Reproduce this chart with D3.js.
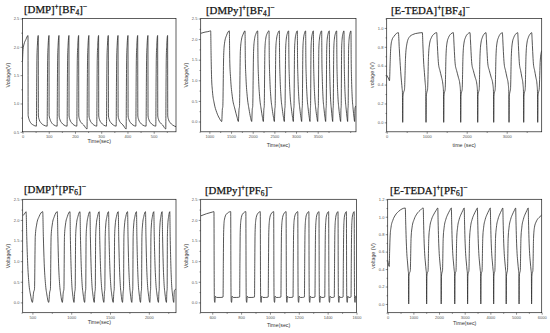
<!DOCTYPE html>
<html>
<head>
<meta charset="utf-8">
<script src="https://cdn.jsdelivr.net/npm/d3@7"></script>
<style>
body { margin: 0; background: #fff; }
svg { display: block; }
</style>
</head>
<body>
<svg></svg>
<script>
// charge / discharge curves, [time (sec), voltage (V)]

var dmpBf4 = [
	[0,1.75],[2,1.95],[6,2.05],[13,2.13],[21,2.2],
	[21.5,0.79],[25,0.72],[31,0.66],[41,0.62],[53,0.6],[54,1.3],[55,1.8],[57,2.05],[60,2.2],
	[60.5,0.78],[64,0.71],[70,0.66],[80,0.62],[94,0.6],[95,1.3],[96,1.8],[98,2.05],[101,2.2],
	[101.5,0.79],[105,0.72],[111,0.66],[120,0.62],[132,0.6],[133,1.3],[134,1.8],[136,2.05],[139,2.2],
	[139.5,0.78],[143,0.71],[149,0.66],[158,0.62],[170,0.6],[171,1.3],[172,1.8],[174,2.05],[177,2.2],
	[177.5,0.78],[181,0.71],[187,0.66],[196,0.62],[207,0.6],[208,1.3],[209,1.8],[211,2.05],[214,2.2],
	[214.5,0.78],[218,0.71],[224,0.66],[233,0.62],[246,0.55],[247,1.3],[248,1.8],[250,2.05],[253,2.2],
	[253.5,0.78],[257,0.71],[263,0.66],[272,0.62],[283,0.6],[284,1.3],[285,1.8],[287,2.05],[290,2.2],
	[290.5,0.78],[294,0.71],[300,0.66],[309,0.62],[320,0.6],[321,1.3],[322,1.8],[324,2.05],[327,2.2],
	[327.5,0.78],[331,0.71],[337,0.66],[346,0.62],[357,0.6],[358,1.3],[359,1.8],[361,2.05],[364,2.2],
	[364.5,0.78],[368,0.71],[374,0.66],[383,0.62],[395,0.55],[396,1.3],[397,1.8],[399,2.05],[402,2.2],
	[402.5,0.78],[406,0.71],[412,0.66],[421,0.62],[432,0.6],[433,1.3],[434,1.8],[436,2.05],[439,2.2],
	[439.5,0.78],[443,0.71],[449,0.66],[458,0.62],[471,0.6],[472,1.3],[473,1.8],[475,2.05],[478,2.2],
	[478.5,0.78],[482,0.71],[488,0.66],[497,0.62],[508,0.6],[509,1.3],[510,1.8],[512,2.05],[515,2.2],
	[515.5,0.78],[519,0.71],[525,0.66],[534,0.62],[546,0.55],[547,1.3],[548,1.8],[550,2.05],[553,2.2],
	[553.5,0.78],[557,0.71],[563,0.66],[572,0.62],[585,0.59]
];

var dmpyBf4 = [
	[800,2.14],[900,2.17],[1000,2.19],[1015,2.2],[1030,2.2],
	[1040,1.6],[1050,1.1],[1070,0.75],[1110,0.45],[1170,0.22],[1230,0.08],[1285,0],
	[1300,0.3],[1310,0.36],[1330,1.6],[1350,1.9],[1400,2.1],[1461,2.2],
	[1470,1.5],[1490,1.05],[1530,0.6],[1590,0.3],[1640,0.1],[1669,0],
	[1685,0.3],[1695,0.36],[1715,1.7],[1740,1.98],[1780,2.12],[1823,2.2],
	[1830,1.5],[1845,1.05],[1875,0.6],[1915,0.3],[1950,0.1],[1977,0],
	[1990,0.3],[2000,0.36],[2020,1.7],[2040,1.98],[2075,2.13],[2115,2.2],
	[2122,1.5],[2135,1.05],[2160,0.6],[2195,0.3],[2225,0.1],[2246,0],
	[2258,0.3],[2266,0.36],[2282,1.75],[2300,2.0],[2335,2.14],[2377,2.2],
	[2383,1.5],[2395,1.05],[2418,0.6],[2450,0.3],[2480,0.1],[2500,0],
	[2511,0.3],[2518,0.36],[2533,1.75],[2550,2.0],[2580,2.14],[2615,2.2],
	[2621,1.5],[2632,1.05],[2653,0.6],[2683,0.3],[2710,0.1],[2730,0],
	[2740,0.3],[2746,0.36],[2760,1.75],[2775,2.0],[2800,2.14],[2830,2.2],
	[2836,1.5],[2846,1.05],[2866,0.6],[2894,0.3],[2920,0.1],[2938,0],
	[2947,0.3],[2953,0.36],[2966,1.75],[2980,2.0],[3003,2.14],[3030,2.2],
	[3035,1.5],[3045,1.05],[3063,0.6],[3089,0.3],[3113,0.1],[3130,0],
	[3139,0.3],[3145,0.36],[3158,1.75],[3172,2.0],[3195,2.14],[3222,2.2],
	[3227,1.5],[3237,1.05],[3255,0.6],[3281,0.3],[3305,0.1],[3322,0],
	[3330,0.3],[3335,0.36],[3346,1.75],[3358,2.0],[3378,2.14],[3400,2.2],
	[3405,1.5],[3414,1.05],[3432,0.6],[3457,0.3],[3482,0.1],[3500,0],
	[3508,0.3],[3514,0.36],[3526,1.75],[3540,2.0],[3563,2.14],[3592,2.2],
	[3597,1.5],[3606,1.05],[3622,0.6],[3646,0.3],[3668,0.1],[3684,0],
	[3692,0.3],[3697,0.36],[3708,1.75],[3720,2.0],[3742,2.14],[3768,2.2],
	[3773,1.5],[3781,1.05],[3795,0.6],[3815,0.3],[3833,0.1],[3846,0],
	[3854,0.3],[3859,0.36],[3871,1.75],[3885,2.0],[3910,2.14],[3938,2.2],
	[3943,1.5],[3951,1.05],[3967,0.6],[3990,0.3],[4012,0.1],[4030,0],
	[4037,0.3],[4042,0.36],[4052,1.75],[4064,2.0],[4084,2.14],[4107,2.2],
	[4112,1.5],[4120,1.05],[4135,0.6],[4157,0.3],[4177,0.1],[4191,0],
	[4198,0.3],[4203,0.36],[4213,1.75],[4225,2.0],[4245,2.14],[4268,2.2],
	[4273,1.5],[4281,1.05],[4296,0.6],[4318,0.3],[4338,0.1],[4352,0],
	[4360,0.3],[4370,0.36],[4384,0.38]
];

var eTedaBf4 = [
	[0,0.5],[50,0.46],[70,0.44],[85,0.62],[100,0.78],[130,0.87],[180,0.91],[240,0.94],[292,0.95],
	[315,0.78],[340,0.6],[360,0.48],[385,0.36],[393,0.32],[400,0],
	[408,0.28],[425,0.32],[445,0.35],[470,0.68],[500,0.82],[560,0.9],[650,0.93],[780,0.945],[892,0.95],
	[905,0.82],[922,0.65],[942,0.53],[962,0.42],[976,0.34],[983,0],
	[991,0.28],[1005,0.32],[1022,0.35],[1045,0.7],[1075,0.84],[1120,0.9],[1180,0.935],[1250,0.95],
	[1260,0.88],[1275,0.75],[1295,0.62],[1330,0.55],[1370,0.48],[1405,0.4],[1419,0.33],[1425,0],
	[1433,0.28],[1447,0.32],[1462,0.35],[1482,0.7],[1507,0.84],[1547,0.9],[1600,0.935],[1667,0.95],
	[1677,0.88],[1692,0.75],[1712,0.62],[1747,0.55],[1790,0.48],[1830,0.4],[1844,0.33],[1850,0],
	[1858,0.28],[1872,0.32],[1887,0.35],[1907,0.7],[1932,0.84],[1970,0.9],[2020,0.935],[2083,0.95],
	[2093,0.88],[2108,0.75],[2128,0.62],[2165,0.55],[2210,0.48],[2255,0.4],[2269,0.33],[2275,0],
	[2283,0.28],[2297,0.32],[2312,0.35],[2332,0.7],[2356,0.84],[2392,0.9],[2435,0.935],[2483,0.95],
	[2493,0.88],[2508,0.75],[2528,0.62],[2565,0.55],[2610,0.48],[2655,0.4],[2669,0.33],[2675,0],
	[2683,0.28],[2697,0.32],[2712,0.35],[2732,0.7],[2757,0.84],[2795,0.9],[2840,0.935],[2892,0.95],
	[2902,0.88],[2917,0.75],[2937,0.62],[2970,0.55],[3005,0.48],[3040,0.4],[3052,0.33],[3058,0],
	[3066,0.28],[3080,0.32],[3095,0.35],[3115,0.7],[3140,0.84],[3178,0.9],[3225,0.935],[3275,0.95],
	[3285,0.88],[3300,0.75],[3318,0.62],[3348,0.55],[3378,0.48],[3408,0.4],[3419,0.33],[3425,0],
	[3433,0.28],[3447,0.32],[3462,0.35],[3482,0.7],[3506,0.84],[3542,0.9],[3585,0.935],[3625,0.95],
	[3635,0.88],[3650,0.75],[3668,0.62],[3698,0.55],[3728,0.48],[3758,0.4],[3769,0.33],[3775,0],
	[3783,0.28],[3797,0.32],[3812,0.35],[3840,0.66],[3875,0.76]
];

var dmpPf6 = [
	[375,2.1],[395,2.14],[410,2.18],[419,2.2],
	[427,1.6],[439,0.95],[455,0.46],[476,0.18],[500,0],
	[516,0.25],[527,0.32],[537,1.6],[556,1.9],[586,2.08],[633,2.2],
	[641,1.6],[652,0.95],[668,0.46],[687,0.18],[710,0],
	[723,0.25],[732,0.32],[741,1.6],[757,1.9],[782,2.08],[821,2.2],
	[828,1.6],[837,0.95],[850,0.46],[866,0.18],[886,0],
	[898,0.25],[906,0.32],[913,1.6],[927,1.9],[950,2.08],[984,2.2],
	[989,1.6],[997,0.95],[1007,0.46],[1020,0.18],[1036,0],
	[1045,0.25],[1051,0.32],[1057,1.6],[1068,1.9],[1086,2.08],[1113,2.2],
	[1119,1.6],[1128,0.95],[1140,0.46],[1155,0.18],[1173,0],
	[1181,0.25],[1187,0.32],[1192,1.6],[1202,1.9],[1217,2.08],[1241,2.2],
	[1247,1.6],[1255,0.95],[1266,0.46],[1280,0.18],[1297,0],
	[1305,0.25],[1310,0.32],[1315,1.6],[1324,1.9],[1339,2.08],[1361,2.2],
	[1367,1.6],[1376,0.95],[1388,0.46],[1403,0.18],[1421,0],
	[1428,0.25],[1433,0.32],[1438,1.6],[1446,1.9],[1460,2.08],[1481,2.2],
	[1487,1.6],[1496,0.95],[1508,0.46],[1523,0.18],[1541,0],
	[1549,0.25],[1554,0.32],[1559,1.6],[1568,1.9],[1583,2.08],[1606,2.2],
	[1612,1.6],[1620,0.95],[1631,0.46],[1644,0.18],[1661,0],
	[1669,0.25],[1674,0.32],[1679,1.6],[1688,1.9],[1703,2.08],[1726,2.2],
	[1732,1.6],[1740,0.95],[1751,0.46],[1764,0.18],[1781,0],
	[1788,0.25],[1793,0.32],[1798,1.6],[1806,1.9],[1820,2.08],[1841,2.2],
	[1846,1.6],[1854,0.95],[1864,0.46],[1877,0.18],[1893,0],
	[1901,0.25],[1906,0.32],[1911,1.6],[1920,1.9],[1935,2.08],[1957,2.2],
	[1963,1.6],[1971,0.95],[1982,0.46],[1996,0.18],[2013,0],
	[2019,0.25],[2023,0.32],[2027,1.6],[2034,1.9],[2046,2.08],[2064,2.2],
	[2070,1.6],[2079,0.95],[2091,0.46],[2106,0.18],[2124,0],
	[2130,0.25],[2134,0.32],[2137,1.6],[2144,1.9],[2155,2.08],[2171,2.2],
	[2177,1.6],[2185,0.95],[2196,0.46],[2210,0.18],[2227,0],
	[2232,0.25],[2236,0.32],[2239,1.6],[2245,1.9],[2255,2.08],[2270,2.2],
	[2275,1.6],[2283,0.95],[2293,0.46],[2306,0.18],[2321,0],
	[2327,0.25],[2333,0.3],[2347,0.32]
];

var dmpyPf6 = [
	[522,2.1],[560,2.15],[600,2.19],[612,2.2],
	[613.5,0.6],[615,0.05],[618,0],[622,0.15],[630,0.12],[660,0.12],[675,0.13],[677,1.0],[679,1.7],[684,2.0],[698,2.14],[728,2.2],
	[729.5,0.6],[731,0.05],[734,0],[738,0.15],[746,0.12],[770,0.12],[790,0.13],[792,1.0],[794,1.7],[799,2.0],[810,2.14],[833,2.2],
	[834.5,0.6],[836,0.05],[839,0],[843,0.15],[851,0.12],[875,0.12],[893,0.13],[895,1.0],[897,1.7],[902,2.0],[913,2.14],[933,2.2],
	[934.5,0.6],[936,0.05],[939,0],[943,0.15],[951,0.12],[970,0.12],[988,0.13],[990,1.0],[992,1.7],[997,2.0],[1007,2.14],[1026,2.2],
	[1027.5,0.6],[1029,0.05],[1032,0],[1036,0.15],[1044,0.12],[1060,0.12],[1076,0.13],[1078,1.0],[1080,1.7],[1085,2.0],[1095,2.14],[1112,2.2],
	[1113.5,0.6],[1115,0.05],[1118,0],[1122,0.15],[1130,0.12],[1145,0.12],[1160,0.13],[1162,1.0],[1164,1.7],[1168,2.0],[1177,2.14],[1193,2.2],
	[1194.5,0.6],[1196,0.05],[1199,0],[1203,0.15],[1211,0.12],[1225,0.12],[1239,0.13],[1241,1.0],[1243,1.7],[1247,2.0],[1255,2.14],[1270,2.2],
	[1271.5,0.6],[1273,0.05],[1276,0],[1280,0.15],[1288,0.12],[1300,0.12],[1312,0.13],[1314,1.0],[1316,1.7],[1320,2.0],[1327,2.14],[1340,2.2],
	[1341.5,0.6],[1343,0.05],[1346,0],[1350,0.15],[1357,0.12],[1368,0.12],[1380,0.13],[1382,1.0],[1384,1.7],[1388,2.0],[1395,2.14],[1407,2.2],
	[1408.5,0.6],[1410,0.05],[1413,0],[1417,0.15],[1424,0.12],[1435,0.12],[1446,0.13],[1448,1.0],[1450,1.7],[1454,2.0],[1461,2.14],[1472,2.2],
	[1473.5,0.6],[1475,0.05],[1478,0],[1482,0.15],[1488,0.12],[1497,0.12],[1507,0.13],[1509,1.0],[1511,1.7],[1514,2.0],[1520,2.14],[1530,2.2],
	[1531.5,0.6],[1533,0.05],[1536,0],[1540,0.15],[1546,0.12],[1554,0.12],[1562,0.13],[1564,1.0],[1566,1.7],[1569,2.0],[1575,2.14],[1584,2.2],
	[1585.5,0.6],[1587,0.05],[1590,0],[1594,0.15],[1600,0.12]
];

var eTedaPf6 = [
	[0,0.5],[30,0.45],[60,0.43],[75,0.6],[95,0.78],[130,0.88],[200,0.96],[300,1.02],[420,1.06],[560,1.09],[686,1.1],
	[700,0.95],[720,0.75],[745,0.58],[775,0.47],[800,0.38],[810,0.35],[818,0],
	[830,0.32],[855,0.36],[880,0.38],[910,0.75],[950,0.88],[1030,0.97],[1130,1.03],[1250,1.07],[1385,1.1],
	[1397,0.95],[1415,0.75],[1440,0.58],[1470,0.47],[1495,0.39],[1509,0.35],[1517,0],
	[1528,0.32],[1550,0.36],[1572,0.38],[1600,0.75],[1640,0.88],[1710,0.97],[1800,1.03],[1880,1.07],[1952,1.1],
	[1964,0.95],[1982,0.75],[2007,0.58],[2037,0.47],[2062,0.39],[2076,0.35],[2084,0],
	[2095,0.32],[2115,0.36],[2135,0.38],[2162,0.75],[2200,0.88],[2265,0.97],[2345,1.03],[2415,1.07],[2480,1.1],
	[2492,0.95],[2510,0.75],[2535,0.58],[2565,0.47],[2590,0.39],[2604,0.35],[2612,0],
	[2623,0.32],[2642,0.36],[2661,0.38],[2688,0.75],[2724,0.88],[2785,0.97],[2860,1.03],[2925,1.07],[2981,1.1],
	[2993,0.95],[3011,0.75],[3036,0.58],[3066,0.47],[3091,0.39],[3105,0.35],[3113,0],
	[3124,0.32],[3144,0.36],[3163,0.38],[3190,0.75],[3227,0.88],[3290,0.97],[3368,1.03],[3435,1.07],[3495,1.1],
	[3507,0.95],[3525,0.75],[3550,0.58],[3580,0.47],[3605,0.39],[3619,0.35],[3627,0],
	[3638,0.32],[3657,0.36],[3676,0.38],[3703,0.75],[3739,0.88],[3800,0.97],[3875,1.03],[3940,1.07],[3997,1.1],
	[4009,0.95],[4027,0.75],[4052,0.58],[4082,0.47],[4106,0.39],[4120,0.35],[4128,0],
	[4139,0.32],[4157,0.36],[4175,0.38],[4201,0.75],[4236,0.88],[4295,0.97],[4367,1.03],[4430,1.07],[4485,1.1],
	[4497,0.95],[4515,0.75],[4540,0.58],[4570,0.47],[4595,0.39],[4609,0.35],[4617,0],
	[4628,0.32],[4647,0.36],[4666,0.38],[4693,0.75],[4729,0.88],[4790,0.97],[4865,1.03],[4930,1.07],[4986,1.1],
	[4998,0.95],[5016,0.75],[5041,0.58],[5071,0.47],[5096,0.39],[5110,0.35],[5118,0],
	[5129,0.32],[5147,0.36],[5165,0.38],[5191,0.75],[5226,0.88],[5285,0.97],[5356,1.03],[5420,1.07],[5474,1.1],
	[5486,0.95],[5504,0.75],[5529,0.58],[5559,0.47],[5584,0.39],[5598,0.35],[5606,0],
	[5617,0.32],[5636,0.36],[5655,0.38],[5682,0.75],[5718,0.88],[5780,0.94],[5860,0.98],[5930,1.0],[6000,1.02]
];

// tick values for each axis
var ticksTime1 = [0, 100, 200, 300, 400, 500];
var ticksTime2 = [1000, 1500, 2000, 2500, 3000, 3500];
var ticksTime3 = [0, 1000, 2000, 3000];
var ticksTime4 = [500, 1000, 1500, 2000];
var ticksTime5 = [600, 800, 1000, 1200, 1400, 1600];
var ticksTime6 = [0, 1000, 2000, 3000, 4000, 5000, 6000];
var ticksVolt1 = [0.5, 1.0, 1.5, 2.0, 2.5];
var ticksVolt2 = [0.0, 0.5, 1.0, 1.5, 2.0, 2.5];
var ticksVolt3 = [0.0, 0.2, 0.4, 0.6, 0.8, 1.0];
var ticksVolt6 = [0.0, 0.2, 0.4, 0.6, 0.8, 1.0, 1.2];

// ion names: cation, anion, anion subscript
var cations = ['DMP', 'DMPy', 'E-TEDA', 'DMP', 'DMPy', 'E-TEDA'];
var anions = ['BF', 'BF', 'BF', 'PF', 'PF', 'PF'];
var anionSubs = ['4', '4', '4', '6', '6', '6'];

// some global settings
var CONF = {
	width: 550,
	height: 333,
	line: '#2b2b2b',
	tickFont: 4,
	labelFont: 5.3,
	titleFont: 10.8
};

// panel layout (pixel boxes) and axis ranges
var panels = [
	{data: dmpBf4, left: 22.5, right: 176, top: 18.5, bottom: 131.8,
		xDom: [0, 585], yDom: [0.5, 2.5], xTicks: ticksTime1, yTicks: ticksVolt1,
		xLabel: 'Time(sec)', yLabel: 'Voltage(V)', xLabelDy: 11.5, titleX: 24, titleY: 13},
	{data: dmpyBf4, left: 200.7, right: 356, top: 18.5, bottom: 131.8,
		xDom: [800, 4384], yDom: [-0.25, 2.5], xTicks: ticksTime2, yTicks: ticksVolt2,
		xLabel: 'Time(sec)', yLabel: 'Voltage(V)', xLabelDy: 15.5, titleX: 206, titleY: 14},
	{data: eTedaBf4, left: 386.7, right: 541.7, top: 18.5, bottom: 131.8,
		xDom: [0, 3875], yDom: [-0.1, 1.1], xTicks: ticksTime3, yTicks: ticksVolt3,
		xLabel: 'time (sec)', yLabel: 'voltage (V)', xLabelDy: 15.5, titleX: 391, titleY: 14},
	{data: dmpPf6, left: 22.7, right: 176, top: 199.3, bottom: 312.7,
		xDom: [375, 2350], yDom: [-0.25, 2.5], xTicks: ticksTime4, yTicks: ticksVolt2,
		xLabel: 'Time(sec)', yLabel: 'Voltage(V)', xLabelDy: 11, titleX: 24, titleY: 193},
	{data: dmpyPf6, left: 200.7, right: 356.5, top: 199.3, bottom: 312.7,
		xDom: [520, 1600], yDom: [-0.25, 2.5], xTicks: ticksTime5, yTicks: ticksVolt2,
		xLabel: 'Time(sec)', yLabel: 'Voltage(V)', xLabelDy: 14, titleX: 205, titleY: 194},
	{data: eTedaPf6, left: 387.7, right: 541.7, top: 199.3, bottom: 312.7,
		xDom: [0, 6000], yDom: [-0.1, 1.2], xTicks: ticksTime6, yTicks: ticksVolt6,
		xLabel: 'Time(sec)', yLabel: 'voltage (V)', xLabelDy: 12, titleX: 390, titleY: 194}
];

// midpoints between major ticks, kept inside the domain
function minorTicks(major, dom) {
	var step = major[1] - major[0];
	var out = [];
	for(var v = major[0] - step/2; v <= dom[1]; v += step) {
		if(v >= dom[0]) { out.push(v); }
	}
	return out;
}

function styleAxis(g) {
	g.select('.domain').remove();
	g.attr('font-family', '"Liberation Sans", Arial, sans-serif')
		.attr('font-size', CONF.tickFont);
	g.selectAll('.tick line').attr('stroke', '#222').attr('stroke-width', 0.5);
	g.selectAll('.tick text').attr('fill', '#555');
}

function drawPanel(svg, p, i) {
	var g = svg.append('g').attr('class', 'panel');

	var x = d3.scaleLinear().domain(p.xDom).range([p.left, p.right]);
	var y = d3.scaleLinear().domain(p.yDom).range([p.bottom, p.top]);

	// clip the curve to the frame
	g.append('clipPath')
		.attr('id', 'clip'+i)
		.append('rect')
			.attr('x', p.left).attr('y', p.top)
			.attr('width', p.right - p.left)
			.attr('height', p.bottom - p.top);

	var line = d3.line()
		.x(function(d) { return x(d[0]); })
		.y(function(d) { return y(d[1]); })
		.curve(d3.curveMonotoneX);

	g.append('path')
		.datum(p.data)
		.attr('clip-path', 'url(#clip'+i+')')
		.attr('d', line)
		.attr('fill', 'none')
		.attr('stroke', CONF.line)
		.attr('stroke-width', 0.8)
		.attr('stroke-linejoin', 'round');

	// minor ticks first, then the labelled ones
	g.append('g')
		.attr('transform', 'translate(0,'+p.bottom+')')
		.call(d3.axisBottom(x).tickValues(minorTicks(p.xTicks, p.xDom))
			.tickSize(1.2).tickSizeOuter(0).tickFormat(''))
		.call(styleAxis);

	g.append('g')
		.attr('transform', 'translate('+p.left+',0)')
		.call(d3.axisLeft(y).tickValues(minorTicks(p.yTicks, p.yDom))
			.tickSize(1.2).tickSizeOuter(0).tickFormat(''))
		.call(styleAxis);

	g.append('g')
		.attr('transform', 'translate(0,'+p.bottom+')')
		.call(d3.axisBottom(x).tickValues(p.xTicks)
			.tickSize(2).tickSizeOuter(0).tickPadding(1.3)
			.tickFormat(d3.format('d')))
		.call(styleAxis);

	g.append('g')
		.attr('transform', 'translate('+p.left+',0)')
		.call(d3.axisLeft(y).tickValues(p.yTicks)
			.tickSize(2).tickSizeOuter(0).tickPadding(1.3)
			.tickFormat(d3.format('.1f')))
		.call(styleAxis);

	// the frame
	g.append('rect')
		.attr('x', p.left).attr('y', p.top)
		.attr('width', p.right - p.left)
		.attr('height', p.bottom - p.top)
		.attr('fill', 'none')
		.attr('stroke', '#1a1a1a')
		.attr('stroke-width', 0.7);

	// axis titles
	g.append('text')
		.attr('x', (p.left + p.right)/2)
		.attr('y', p.bottom + p.xLabelDy)
		.attr('text-anchor', 'middle')
		.attr('font-family', '"Liberation Sans", Arial, sans-serif')
		.attr('font-size', CONF.labelFont)
		.attr('fill', '#333')
		.text(p.xLabel);

	g.append('text')
		.attr('transform', 'translate('+(p.left - 12.5)+','+((p.top + p.bottom)/2)+') rotate(-90)')
		.attr('text-anchor', 'middle')
		.attr('font-family', '"Liberation Sans", Arial, sans-serif')
		.attr('font-size', CONF.labelFont)
		.attr('fill', '#333')
		.text(p.yLabel);

	// title: [cation]+[anion_n]-, a thin stroke to make it as heavy as the original
	var t = g.append('text')
		.attr('x', p.titleX)
		.attr('y', p.titleY)
		.attr('font-family', '"Liberation Serif", "DejaVu Serif", serif')
		.attr('font-size', CONF.titleFont)
		.attr('fill', '#111')
		.attr('stroke', '#111')
		.attr('stroke-width', 0.25);
	var small = CONF.titleFont * 0.68;
	t.append('tspan').text('['+cations[i]+']');
	t.append('tspan').attr('dy', -4).attr('font-size', small).text('+');
	t.append('tspan').attr('dy', 4).text('['+anions[i]);
	t.append('tspan').attr('dy', 2).attr('font-size', small).text(anionSubs[i]);
	t.append('tspan').attr('dy', -2).text(']');
	t.append('tspan').attr('dy', -4).attr('font-size', small).text('\u2212');
}

function drawAll() {
	var svg = d3.select('svg')
		.attr('width', CONF.width)
		.attr('height', CONF.height);

	svg.append('rect')
		.attr('width', CONF.width).attr('height', CONF.height)
		.attr('fill', '#fff');

	panels.forEach(function(p, i) {
		drawPanel(svg, p, i);
	});
}

drawAll();
</script>
</body>
</html>
